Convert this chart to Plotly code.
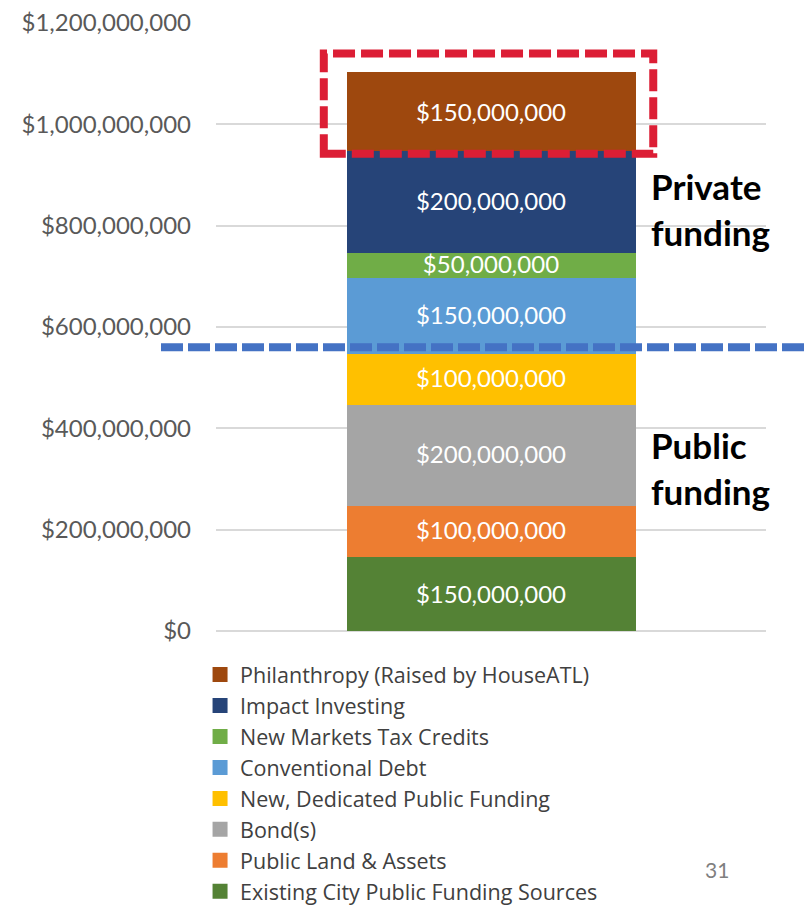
import plotly.graph_objects as go

# Data (bottom to top of the stack)
sources = [
    "Existing City Public Funding Sources",
    "Public Land & Assets",
    "Bond(s)",
    "New, Dedicated Public Funding",
    "Conventional Debt",
    "New Markets Tax Credits",
    "Impact Investing",
    "Philanthropy (Raised by HouseATL)",
]
amounts = [150_000_000, 100_000_000, 200_000_000, 100_000_000,
           150_000_000, 50_000_000, 200_000_000, 150_000_000]
is_public = [True, True, True, True, False, False, False, False]
colors = ["#548235", "#ED7D31", "#A5A5A5", "#FFC000",
          "#5B9BD5", "#70AD47", "#264478", "#9E480E"]
category = [""]
y_ticks = [0, 200_000_000, 400_000_000, 600_000_000, 800_000_000,
           1_000_000_000, 1_200_000_000]
y_tick_labels = ["$0", "$200,000,000", "$400,000,000", "$600,000,000",
                 "$800,000,000", "$1,000,000,000", "$1,200,000,000"]

FONT = "Lato"
LEGEND_FONT = "Open Sans"

fig = go.Figure()
for i, (name, val, col) in enumerate(zip(sources, amounts, colors)):
    fig.add_trace(go.Bar(
        x=category, y=[val], name=name, marker_color=col,
        marker_line_width=3, marker_line_color=col, width=0.52,
        text=[f"${val:,.0f}"], textposition="inside",
        insidetextanchor="middle", textangle=0,
        textfont=dict(family=FONT, size=24, color="#FFFFFF"),
        hoverinfo="name+y",
    ))

public_total = sum(v for v, p in zip(amounts, is_public) if p)
total = sum(amounts)
top_start = total - amounts[-1]

shapes = [
    # divider between public and private funding
    dict(type="line", xref="paper", yref="y",
         x0=-0.10, x1=1.08, y0=public_total + 10_000_000, y1=public_total + 10_000_000,
         line=dict(color="#4472C4", width=8, dash="22px,5px")),
    # highlight around philanthropy segment
    dict(type="rect", xref="x", yref="y",
         x0=-0.304, x1=0.295, y0=top_start - 8_000_000, y1=total + 40_000_000,
         line=dict(color="#DC1E35", width=8, dash="22px,6px"),
         fillcolor="rgba(0,0,0,0)"),
]

annotations = [
    dict(text="<b>Private<br>funding</b>", xref="paper", yref="paper",
         x=0.787, y=0.694, xanchor="left", yanchor="middle", align="left",
         showarrow=False, font=dict(family=FONT, size=35, color="#000000")),
    dict(text="<b>Public<br>funding</b>", xref="paper", yref="paper",
         x=0.787, y=0.268, xanchor="left", yanchor="middle", align="left",
         showarrow=False, font=dict(family=FONT, size=35, color="#000000")),
    dict(text="31", xref="paper", yref="paper",
         x=(717 - 216) / 550, y=-(869 - 631) / 607.7, xanchor="center", yanchor="middle",
         showarrow=False, font=dict(family=FONT, size=21, color="#7F7F7F")),
]

fig.update_layout(
    width=806, height=907,
    margin=dict(l=216, r=40, t=23, b=276, autoexpand=False),
    barmode="stack",
    plot_bgcolor="#FFFFFF", paper_bgcolor="#FFFFFF",
    showlegend=True,
    legend=dict(traceorder="reversed", orientation="v",
                x=-0.029, y=-0.038, xanchor="left", yanchor="top",
                font=dict(family=LEGEND_FONT, size=21.5, color="#404040"),
                tracegroupgap=0, bgcolor="rgba(0,0,0,0)"),
    shapes=shapes, annotations=annotations,
    xaxis=dict(range=[-0.5, 0.5], showticklabels=False, showgrid=False,
               zeroline=False, showline=False, fixedrange=True),
    yaxis=dict(range=[0, 1_200_000_000], tickvals=y_ticks, ticktext=y_tick_labels,
               showgrid=True, gridcolor="#D9D9D9", gridwidth=1.5,
               zeroline=True, zerolinecolor="#D9D9D9", zerolinewidth=1.5,
               showline=False, ticks="", ticklabelstandoff=24,
               tickfont=dict(family=FONT, size=24, color="#595959")),
    uniformtext=dict(minsize=24, mode="show"),
)

fig.write_html("out.html", config={"displayModeBar": False},
               post_script="document.body.style.margin='0px';document.body.style.overflow='hidden';")
